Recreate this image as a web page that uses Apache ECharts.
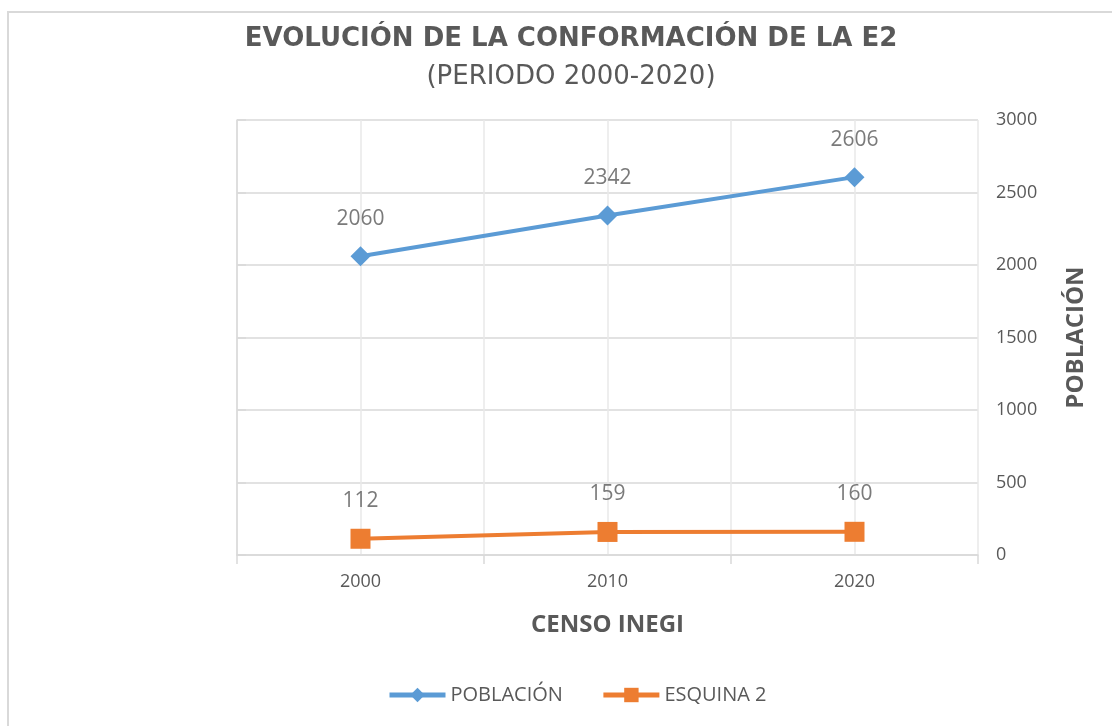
<!DOCTYPE html>
<html>
<head>
<meta charset="utf-8">
<script src="https://cdn.jsdelivr.net/npm/echarts@6/dist/echarts.min.js"></script>
<style>
  html, body { margin: 0; padding: 0; background: #fff; }
  #chart { width: 1112px; height: 726px; }
</style>
</head>
<body>
<div id="chart"></div>
<script>
const censos = ["2000", "2010", "2020"];
const poblacion = [2060, 2342, 2606];
const esquina2 = [112, 159, 160];
const yTicks = { min: 0, max: 3000, interval: 500 };

const gridColor = "#d9d9d9";
const vGridColor = "#e8e8e8";
const textColor = "#595959";
const labelColor = "#7a7a7a";
const font = "'Open Sans', 'Noto Sans', sans-serif";

const myChart = echarts.init(document.getElementById("chart"));

const chartOption = {
  backgroundColor: "#fff",
  textStyle: { fontFamily: font },
  graphic: [
    {
      type: "rect",
      silent: true,
      shape: { x: 8, y: 12, width: 1200, height: 800 },
      style: { fill: "none", stroke: "#d9d9d9", lineWidth: 2 }
    }
  ],
  title: {
    text: "EVOLUCIÓN DE LA CONFORMACIÓN DE LA E2",
    subtext: "(PERIODO 2000-2020)",
    left: 566,
    textAlign: "center",
    top: 21,
    itemGap: 12,
    textStyle: {
      fontFamily: "'DejaVu Sans', sans-serif",
      fontSize: 26,
      fontWeight: "bold",
      color: textColor
    },
    subtextStyle: {
      fontFamily: "'DejaVu Sans', sans-serif",
      fontSize: 26,
      color: textColor
    }
  },
  legend: {
    bottom: 16,
    left: 382,
    itemWidth: 56,
    itemHeight: 18,
    itemGap: 38,
    lineStyle: { width: 5 },
    textStyle: { fontSize: 20, color: textColor, fontFamily: font },
    data: ["POBLACIÓN", "ESQUINA 2"]
  },
  grid: {
    left: 237,
    right: 134,
    top: 120,
    bottom: 171,
    containLabel: false
  },
  xAxis: [
    {
      type: "category",
      data: censos,
      boundaryGap: true,
      name: "CENSO INEGI",
      nameLocation: "middle",
      nameGap: 58,
      nameTextStyle: { fontSize: 24, fontWeight: "bold", color: textColor },
      axisLine: { show: true, lineStyle: { color: gridColor, width: 1.5 } },
      axisTick: { show: true, length: 9, lineStyle: { color: gridColor, width: 1.5 } },
      axisLabel: { fontSize: 18, color: textColor, margin: 18 },
      splitLine: { show: false }
    },
    {
      // only used for the light vertical gridlines at category edges and centres
      type: "value",
      min: 0,
      max: censos.length * 2,
      interval: 1,
      axisLine: { show: false },
      axisTick: { show: false },
      axisLabel: { show: false },
      splitLine: { show: true, lineStyle: { color: vGridColor, width: 1.5 } }
    }
  ],
  yAxis: [
    {
      type: "value",
      position: "right",
      min: yTicks.min,
      max: yTicks.max,
      interval: yTicks.interval,
      name: "POBLACIÓN",
      nameLocation: "middle",
      nameRotate: 90,
      nameGap: 86,
      nameTextStyle: { fontSize: 24, fontWeight: "bold", color: textColor },
      axisLine: { show: true, lineStyle: { color: gridColor, width: 1.5 } },
      axisTick: { show: true, length: 9, inside: false, lineStyle: { color: gridColor, width: 1.5 } },
      axisLabel: { fontSize: 18, color: textColor, margin: 18, align: "left", formatter: v => String(v) },
      splitLine: { show: true, lineStyle: { color: gridColor, width: 1.5 } }
    }
  ],
  series: [
    {
      name: "POBLACIÓN",
      type: "line",
      data: poblacion,
      symbol: "diamond",
      symbolSize: 20,
      lineStyle: { width: 4, color: "#5b9bd5" },
      itemStyle: { color: "#5b9bd5" },
      label: { show: true, position: "top", distance: 17, fontSize: 21, color: labelColor },
      z: 3
    },
    {
      name: "ESQUINA 2",
      type: "line",
      data: esquina2,
      symbol: "rect",
      symbolSize: 20,
      lineStyle: { width: 4, color: "#ed7d31" },
      itemStyle: { color: "#ed7d31" },
      label: { show: true, position: "top", distance: 17, fontSize: 21, color: labelColor },
      z: 3
    }
  ]
};

myChart.setOption(chartOption);
</script>
</body>
</html>
